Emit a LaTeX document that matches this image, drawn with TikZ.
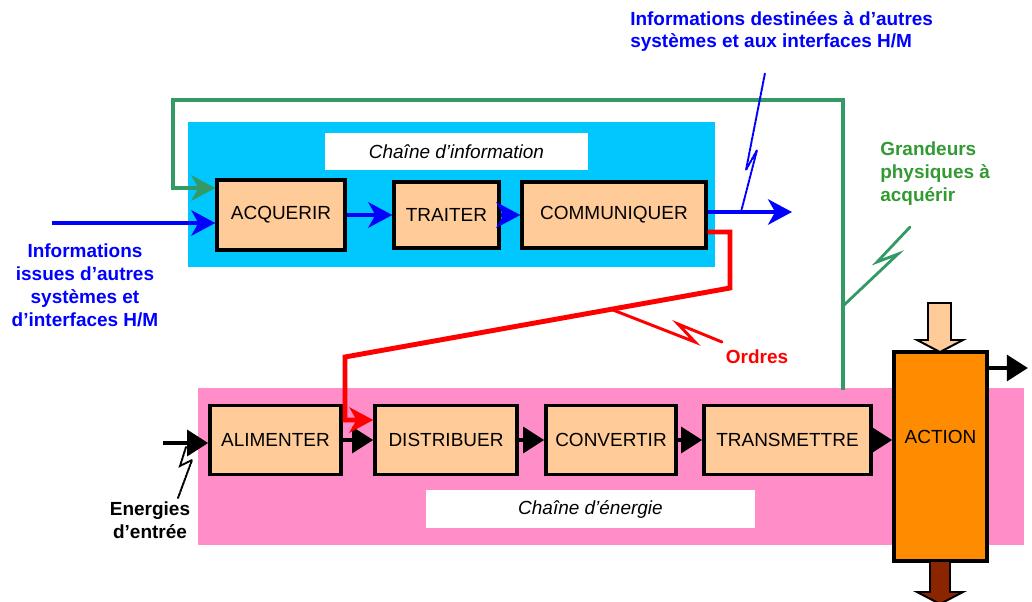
\documentclass[tikz,border=0pt]{standalone}
\usepackage{fontspec}
\setmainfont{Liberation Sans}
\usetikzlibrary{arrows.meta}

\definecolor{infobg}{HTML}{00C8FF}
\definecolor{nrjbg}{HTML}{FF8EC8}
\definecolor{peach}{HTML}{FFCC99}
\definecolor{actorange}{HTML}{FF8C00}
\definecolor{outbrown}{HTML}{8B2500}
\definecolor{grdgreen}{HTML}{339966}
\definecolor{grdtext}{HTML}{339933}

\begin{document}
\begin{tikzpicture}[x=0.025cm, y=-0.025cm, line join=miter,
    txt/.style={font=\fontsize{13.5}{16.3}\selectfont},
    lbl/.style={font=\fontsize{13.5}{16.3}\selectfont\bfseries, align=center, inner sep=0pt},
    fct/.style={txt, draw, line width=2.4pt, fill=peach, minimum height=1.725cm, inner sep=0pt},
    chaintitle/.style={font=\fontsize{13.5}{16.3}\selectfont\itshape, fill=white, inner sep=0pt},
    flow/.style={line width=3.5pt, -{Triangle[length=15pt,width=18pt]}},
    info/.style={line width=3.5pt, blue, -{Stealth[length=17pt,width=18pt,inset=5pt]}},
    bolt/.style={line width=1.4pt, line cap=round}]

% whole canvas
\useasboundingbox (0,0) rectangle (1032,601);

% ---- backgrounds of the two chains ----
\fill[infobg] (188,122) rectangle (715,267);
\fill[nrjbg]  (198,388) rectangle (1024,545);

\node[chaintitle, minimum width=6.575cm, minimum height=0.925cm] (infoTitle) at (456.5,151.5) {Chaîne d'information};
\node[chaintitle, minimum width=8.225cm, minimum height=0.95cm] (nrjTitle) at (590.5,509) {Chaîne d'énergie};

% ---- chaine d'information ----
\node[fct, minimum width=3.2cm, minimum height=1.75cm]   (acq) at (281,215)   {ACQUERIR};
\node[fct, minimum width=2.625cm, minimum height=1.65cm] (trt) at (446.5,215) {TRAITER};
\node[fct, minimum width=4.6cm, minimum height=1.65cm]   (com) at (614,215)   {COMMUNIQUER};

\draw[info] (acq) -- (trt);
\draw[info] (trt) -- (com);

\coordinate (infoIn)  at (52,223);
\coordinate (infoOut) at (792,212);
\draw[info] (infoIn) -- (infoIn -| acq.west);
\draw[info] (com.east |- infoOut) -- (infoOut);

% ---- chaine d'energie ----
\node[fct, minimum width=3.275cm] (ali) at (275.5,440) {ALIMENTER};
\node[fct, minimum width=3.55cm]  (dis) at (446,440)   {DISTRIBUER};
\node[fct, minimum width=3.25cm]  (cnv) at (611,440)   {CONVERTIR};
\node[fct, minimum width=4.175cm] (trm) at (787.5,440) {TRANSMETTRE};
\node[fct, fill=actorange, minimum width=2.325cm, minimum height=5.225cm,
      text height=9.7pt, text depth=27.7pt] (act) at (940.5,456.5) {ACTION};

\draw[flow] (ali) -- (dis);
\draw[flow] (dis) -- (cnv);
\draw[flow] (cnv) -- (trm);
\draw[flow] (trm.east) -- (trm.east -| act.west);

\coordinate (nrjIn)  at (163,443);
\coordinate (actOut) at (1028,368);
\draw[flow] (nrjIn) -- (nrjIn -| ali.west);
\draw[flow] (act.east |- actOut) -- (actOut);

% matiere d'oeuvre in / out
\draw[line width=1.4pt, fill=peach] (928,303) -- (951,303) -- (951,340) -- (963,340)
      -- (940,352) -- (917,340) -- (928,340) -- cycle;
\draw[line width=1.4pt, fill=outbrown] (930,561) -- (950,561) -- (950,592) -- (963,592)
      -- (940,604) -- (917,592) -- (930,592) -- cycle;

% ---- grandeurs physiques (feedback) ----
\coordinate (grdFoot) at (843,390);
\draw[grdgreen, line width=2.8pt, -{Stealth[length=17pt,width=18pt,inset=5pt]}]
      (grdFoot) |- (173,100) |- (acq.west |- 0,188);

% ---- ordres ----
\draw[red, line width=3.5pt, -{Stealth[length=17pt,width=18pt,inset=5pt]}]
      (com.east |- 0,232) -| (730,288) -- (345,357) |- (dis.west |- 0,420);

% ---- lightning marks ----
\draw[bolt, blue, dash pattern=on 2pt off 0.7pt] (741,212) -- (757,150) -- (746,170) -- (765,73);
\draw[bolt, grdgreen, line width=2pt] (843,306) -- (898,254) -- (877,262) -- (910,227);
\draw[bolt, red, line width=2.1pt] (613,310) -- (695,342) -- (678,324) -- (722,342);
\draw[bolt, dash pattern=on 2pt off 0.7pt] (186,447) -- (180,466) -- (192,460) -- (178,498);

% ---- labels ----
\node[lbl, blue] (inLbl) at (85,285.5) {Informations\\issues d'autres\\systèmes et\\d'interfaces H/M};
\node[lbl, blue, align=left, anchor=west] (outLbl) at (630,31.5)
      {Informations destinées à d'autres\\systèmes et aux interfaces H/M};
\node[lbl, grdtext, align=left, anchor=west] (grdLbl) at (880,174) {Grandeurs\\physiques à\\acquérir};
\node[lbl, red] (ordLbl) at (757,357) {Ordres};
\node[lbl] (nrjLbl) at (150,520) {Energies\\d'entrée};

\end{tikzpicture}
\end{document}
